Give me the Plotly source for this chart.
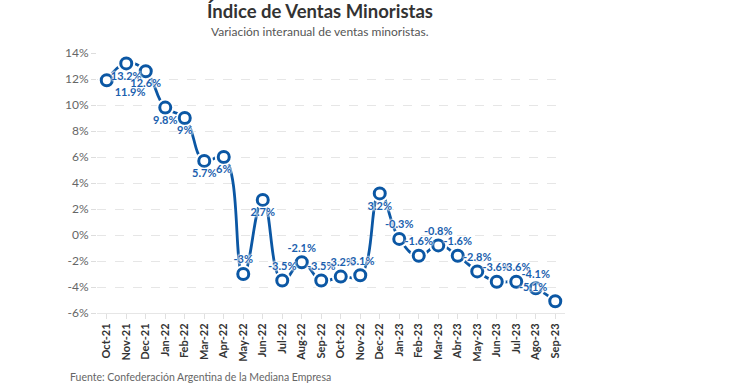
import plotly.graph_objects as go

months = ["Oct-21", "Nov-21", "Dec-21", "Jan-22", "Feb-22", "Mar-22", "Apr-22", "May-22",
          "Jun-22", "Jul-22", "Aug-22", "Sep-22", "Oct-22", "Nov-22", "Dec-22", "Jan-23",
          "Feb-23", "Mar-23", "Abr-23", "May-23", "Jun-23", "Jul-23", "Ago-23", "Sep-23"]
values = [11.9, 13.2, 12.6, 9.8, 9, 5.7, 6, -3, 2.7, -3.5, -2.1, -3.5, -3.2, -3.1, 3.2, -0.3,
          -1.6, -0.8, -1.6, -2.8, -3.6, -3.6, -4.1, -5.1]
y_ticks = [-6, -4, -2, 0, 2, 4, 6, 8, 10, 12, 14]
y_tick_labels = [f"{t}%" for t in y_ticks]

label_pos = (["bottom right"] + ["bottom center"] * 6 + ["top center", "bottom center"]
             + ["top center"] * 5 + ["bottom center"] + ["top center"] * 8 + ["top left"])

BLUE = "#0b57a4"
FONT = "Lato, 'Source Sans Pro', sans-serif"
HALO = "0px 0px 2px white, 0px 0px 2px white, 0px 0px 3px white, 0px 0px 3px white"

fig = go.Figure()
fig.add_trace(go.Scatter(
    x=months, y=values, mode="lines",
    line=dict(color=BLUE, width=2.8, shape="spline", smoothing=1.3),
    hoverinfo="skip", showlegend=False, cliponaxis=False,
))
fig.add_trace(go.Scatter(
    x=months, y=values, mode="markers",
    marker=dict(size=18, color="white", line=dict(width=0)),
    hoverinfo="skip", showlegend=False, cliponaxis=False,
))
fig.add_trace(go.Scatter(
    x=months, y=values, mode="markers+text",
    marker=dict(size=11, color="white", line=dict(color=BLUE, width=3)),
    text=[f"{v:g}%" for v in values],
    textposition=label_pos,
    textfont=dict(family=FONT, size=11, color="#1a5fae", weight="bold", shadow=HALO),
    showlegend=False, cliponaxis=False,
))

fig.update_layout(
    width=730, height=384,
    margin=dict(l=97, r=165, t=53, b=71),
    paper_bgcolor="white", plot_bgcolor="white",
    font=dict(family=FONT),
    title=dict(
        text="<b>Índice de Ventas Minoristas</b>",
        x=320 / 730, xanchor="center", xref="container",
        y=1 - 12 / 384, yanchor="middle", yref="container",
        font=dict(size=18.5, color="#333333", family=FONT),
    ),
    annotations=[
        dict(text="Variación interanual de ventas minoristas.", xref="paper", yref="paper",
             x=(320 - 97) / 468, y=1 + (53 - 31) / 260, xanchor="center", yanchor="middle",
             showarrow=False, font=dict(size=12, color="#555555", family=FONT)),
        dict(text="Fuente: Confederación Argentina de la Mediana Empresa", xref="paper", yref="paper",
             x=(68 - 97) / 468, y=-(377 - 313) / 260, xanchor="left", yanchor="middle",
             showarrow=False, font=dict(size=10.5, color="#666666", family=FONT)),
    ],
    xaxis=dict(
        type="category", range=[-0.5, len(months) - 0.5],
        showgrid=False, showline=True, linecolor="#e6e6e6", linewidth=1,
        ticks="outside", ticklen=5, tickcolor="#e0e0e0", tickangle=-90,
        tickfont=dict(size=11, color="#333333", family=FONT, weight="bold"),
        fixedrange=True,
    ),
    yaxis=dict(
        range=[-6, 14], tickvals=y_ticks, ticktext=y_tick_labels,
        showgrid=True, gridcolor="#e6e6e6", griddash="dash", gridwidth=1,
        zeroline=False, showline=False,
        ticks="outside", ticklen=5, tickcolor="#dddddd",
        tickfont=dict(size=12, color="#666666", family=FONT),
        fixedrange=True,
    ),
)

fig.write_html("out.html", config={"displayModeBar": False},
               post_script="document.body.style.margin='0px';")
